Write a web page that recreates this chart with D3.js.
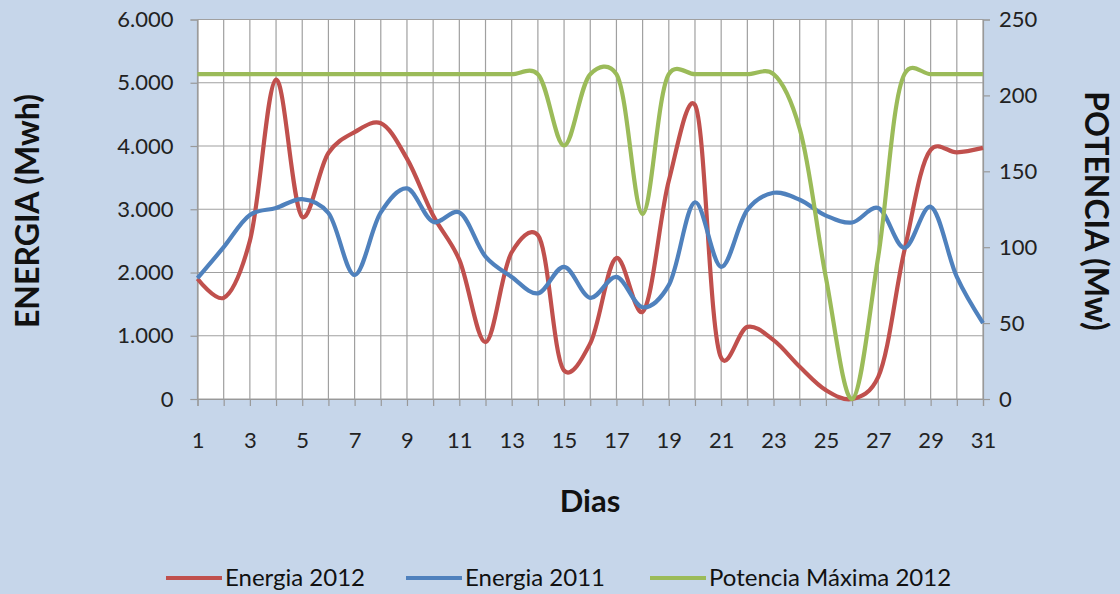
<!DOCTYPE html>
<html>
<head>
<meta charset="utf-8">
<script src="https://cdn.jsdelivr.net/npm/d3@7"></script>
<style>
  body { margin: 0; background: #c6d6ea; }
  svg { display: block; font-family: Lato, "Open Sans", sans-serif; }
</style>
</head>
<body>
<svg id="chart" width="1120" height="594"></svg>
<script>
// days of the month
var dias = d3.range(1, 32);
// Energia 2012 (Mwh)
var energia2012 = [1900, 1600, 2500, 5050, 2880, 3890, 4220, 4360, 3800, 2900,
                   2200, 900, 2320, 2590, 450, 880, 2230, 1380, 3450, 4650,
                   650, 1140, 930, 510, 140, 0, 350, 2350, 3940, 3900, 3970];
// Energia 2011 (Mwh)
var energia2011 = [1910, 2400, 2910, 3020, 3160, 2940, 1960, 2950, 3330, 2800,
                   2950, 2250, 1930, 1670, 2090, 1600, 1930, 1450, 1800, 3110,
                   2090, 2990, 3260, 3150, 2900, 2790, 3020, 2390, 3040, 1930, 1200];
// Potencia Maxima 2012 (Mw)
var potencia2012 = [214, 214, 214, 214, 214, 214, 214, 214, 214, 214,
                    214, 214, 214, 214, 167, 214, 214, 122, 214, 214,
                    214, 214, 214, 178, 80, 0, 94, 214, 214, 214, 214];

var leftTicks = [0, 1000, 2000, 3000, 4000, 5000, 6000];
var rightTicks = [0, 50, 100, 150, 200, 250];

var series = [
  { name: "Energia 2012", values: energia2012, color: "#c0504d", axis: "left" },
  { name: "Energia 2011", values: energia2011, color: "#4f81bd", axis: "left" },
  { name: "Potencia Máxima 2012", values: potencia2012, color: "#9bbb59", axis: "right" }
];

var svg = d3.select("#chart");
var pLeft = 197.5, pRight = 983, pTop = 19.5, pBottom = 399;

var x = d3.scaleLinear().domain([1, 31]).range([pLeft, pRight]);
var yL = d3.scaleLinear().domain([0, 6000]).range([pBottom, pTop]);
var yR = d3.scaleLinear().domain([0, 250]).range([pBottom, pTop]);

var fmt = d3.formatLocale({ decimal: ",", thousands: ".", grouping: [3], currency: ["", ""] }).format(",");

// plot area
svg.append("rect")
  .attr("x", pLeft).attr("y", pTop)
  .attr("width", pRight - pLeft).attr("height", pBottom - pTop)
  .attr("fill", "#fff");

// vertical grid
svg.append("g").selectAll("line")
  .data(dias).enter().append("line")
  .attr("x1", function(d) { return x(d); }).attr("x2", function(d) { return x(d); })
  .attr("y1", pTop).attr("y2", pBottom)
  .attr("stroke", "#a0a0a0").attr("stroke-width", 1.2);

// horizontal grid
svg.append("g").selectAll("line")
  .data(leftTicks).enter().append("line")
  .attr("x1", pLeft).attr("x2", pRight)
  .attr("y1", function(d) { return yL(d); }).attr("y2", function(d) { return yL(d); })
  .attr("stroke", "#a0a0a0").attr("stroke-width", 1.2);

// axes
var axisL = svg.append("g")
  .attr("transform", "translate(" + pLeft + ",0)")
  .call(d3.axisLeft(yL).tickValues(leftTicks).tickSize(7).tickPadding(17).tickFormat(fmt));
var axisR = svg.append("g")
  .attr("transform", "translate(" + pRight + ",0)")
  .call(d3.axisRight(yR).tickValues(rightTicks).tickSize(7).tickPadding(9));
var axisB = svg.append("g")
  .attr("transform", "translate(0," + pBottom + ")")
  .call(d3.axisBottom(x).tickValues(dias).tickSize(7).tickPadding(26)
    .tickFormat(function(d) { return d % 2 === 1 ? d : ""; }));

[axisL, axisR, axisB].forEach(function(a) {
  a.select(".domain").attr("stroke", "#999").attr("stroke-width", 1.2);
  a.selectAll(".tick line").attr("stroke", "#999").attr("stroke-width", 1.2);
  a.selectAll("text").attr("font-size", 22).attr("fill", "#222")
    .attr("font-family", "Lato, 'Open Sans', sans-serif");
});

// lines (smoothed like excel, catmull-rom between uniform and centripetal)
series.forEach(function(s) {
  var yS = s.axis === "left" ? yL : yR;
  var line = d3.line()
    .x(function(d, i) { return x(dias[i]); })
    .y(function(d) { return yS(d); })
    .curve(d3.curveCatmullRom.alpha(0.25));
  svg.append("path")
    .datum(s.values)
    .attr("d", line)
    .attr("fill", "none")
    .attr("stroke", s.color)
    .attr("stroke-width", 4.2)
    .attr("stroke-linejoin", "round");
});

// axis titles
svg.append("text")
  .attr("transform", "translate(39,211) rotate(-90)")
  .attr("text-anchor", "middle")
  .attr("font-size", 32).attr("font-weight", "bold").attr("fill", "#111")
  .text("ENERGIA (Mwh)");
svg.append("text")
  .attr("transform", "translate(1085,211) rotate(90)")
  .attr("text-anchor", "middle")
  .attr("font-size", 32).attr("font-weight", "bold").attr("fill", "#111")
  .text("POTENCIA (Mw)");
svg.append("text")
  .attr("x", 590).attr("y", 512)
  .attr("text-anchor", "middle")
  .attr("font-size", 31).attr("font-weight", "bold").attr("fill", "#111")
  .text("Dias");

// legend
var legendX = [166, 406, 650];
var legend = svg.append("g").selectAll("g")
  .data(series).enter().append("g")
  .attr("transform", function(d, i) { return "translate(" + legendX[i] + ",578)"; });
legend.append("line")
  .attr("x1", 0).attr("x2", 56)
  .attr("stroke", function(d) { return d.color; })
  .attr("stroke-width", 4.2);
legend.append("text")
  .attr("x", 59).attr("dy", "0.35em")
  .attr("font-size", 24).attr("fill", "#111")
  .text(function(d) { return d.name; });
</script>
</body>
</html>
